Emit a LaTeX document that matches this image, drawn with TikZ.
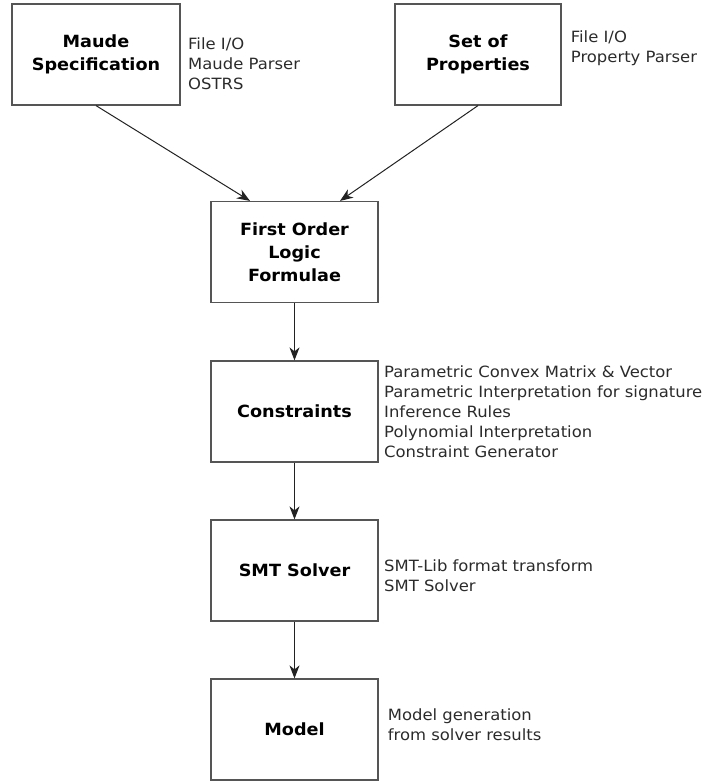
\documentclass[tikz,border=0pt]{standalone}
\usepackage{fontspec}
\setmainfont{DejaVu Sans}
\newfontfamily\boxfont[FakeStretch=1.05]{DejaVu Sans}
\newfontfamily\sidefont[FakeStretch=1.06]{DejaVu Sans}
\usetikzlibrary{arrows.meta}
\definecolor{boxgray}{HTML}{555555}
\definecolor{sidegray}{HTML}{2b2b2b}
\definecolor{arrowgray}{HTML}{222222}
\tikzset{
  stagebox/.style={draw=boxgray, line width=1.2pt, minimum width=167pt, minimum height=101pt,
    inner sep=0pt, align=center, text=black,
    font=\boxfont\bfseries\fontsize{16.8}{23}\selectfont},
  sidetext/.style={anchor=west, inner sep=0pt, align=left, text=sidegray,
    font=\sidefont\fontsize{15.5}{20}\selectfont},
  flow/.style={draw=arrowgray, line width=1pt, -{Stealth[length=13pt,width=10pt,inset=4pt]}}
}
\begin{document}
\begin{tikzpicture}[x=1pt,y=-1pt]
\useasboundingbox (0,0) rectangle (702,781);
\node[stagebox, minimum width=168pt] (maude) at (96,54.5) {Maude\\Specification};
\node[stagebox, minimum width=166pt] (props) at (478,54.5) {Set of\\Properties};
\node[stagebox] (fol) at (294.5,252) {First Order\\Logic\\Formulae};
\node[stagebox] (cons) at (294.5,411.5) {Constraints};
\node[stagebox] (smt) at (294.5,570.5) {SMT Solver};
\node[stagebox] (model) at (294.5,729.5) {Model};

\node[sidetext] (maudeside) at (188,64) {File I/O\\Maude Parser\\OSTRS};
\node[sidetext] (propsside) at (570.7,48.7) {File I/O\\Property Parser};
\node[sidetext] (consside) at (384,411.5) {Parametric Convex Matrix \& Vector\\Parametric Interpretation for signature\\Inference Rules\\Polynomial Interpretation\\Constraint Generator};
\node[sidetext] (smtside) at (384,575.5) {SMT-Lib format transform\\SMT Solver};
\node[sidetext] (modelside) at (387.7,724.5) {Model generation\\from solver results};

\draw[flow] (maude.south) -- ([xshift=-44.5pt]fol.north);
\draw[flow] (props.south) -- ([xshift=45.5pt]fol.north);
\draw[flow] (fol.south) -- (cons.north);
\draw[flow] (cons.south) -- (smt.north);
\draw[flow] (smt.south) -- (model.north);
\end{tikzpicture}
\end{document}
